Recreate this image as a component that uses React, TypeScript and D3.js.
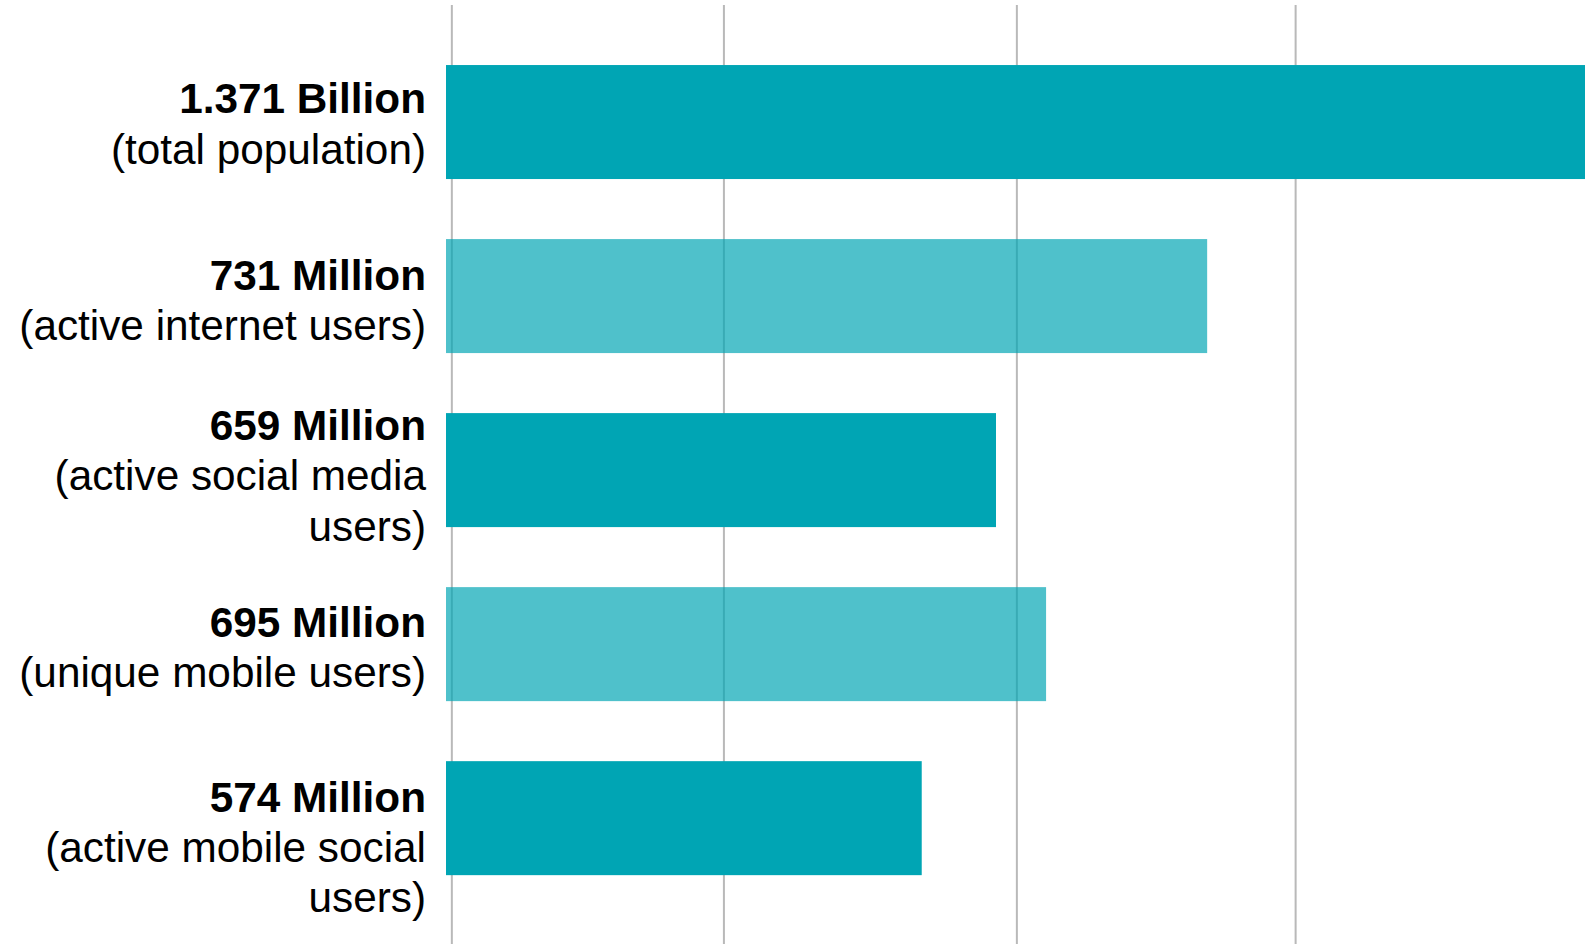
import React from "react";
import * as d3 from "d3";

// ---- data ----
const categories = [
  "total population",
  "active internet users",
  "active social media users",
  "unique mobile users",
  "active mobile social users",
];
const valueLabels = ["1.371 Billion", "731 Million", "659 Million", "695 Million", "574 Million"];
const descLines = [
  ["(total population)"],
  ["(active internet users)"],
  ["(active social media", "users)"],
  ["(unique mobile users)"],
  ["(active mobile social", "users)"],
];
// bar lengths as drawn, in millions on the chart's own scale
const barLengths = [1371, 912, 659, 719, 570];
// gridline positions on the same scale
const gridValues = [7, 333, 684, 1018];
const shades = ["dark", "light", "dark", "light", "dark"];

// ---- layout ----
const W = 1585;
const H = 944;
const BAR_X0 = 446;
const PX_PER_UNIT = 0.8346;
const LABEL_X = 426;
const LINE_H = 50.3;
const STEP = 174.03;
const BAR_H = 114;
const FIRST_TOP = 65.04;
const FIRST_BASELINE = [48.3, 50.9, 26.9, 49.6, 50.6];
const TEAL = "#00A5B4";

export default function App() {
  const x = d3
    .scaleLinear()
    .domain([0, 1371])
    .range([BAR_X0, BAR_X0 + 1371 * PX_PER_UNIT]);
  const pad = (STEP - BAR_H) / STEP;
  const y = d3
    .scaleBand<string>()
    .domain(categories)
    .range([FIRST_TOP - (pad / 2) * STEP, FIRST_TOP - (pad / 2) * STEP + 5 * STEP])
    .paddingInner(pad)
    .paddingOuter(pad / 2);

  return (
    <svg
      width={W}
      height={H}
      style={{
        position: "absolute",
        left: 0,
        top: 0,
        display: "block",
        background: "#fff",
        fontFamily: "Liberation Sans, Arial, sans-serif",
      }}
    >
      <rect x={0} y={0} width={W} height={H} fill="#fff" />
      {gridValues.map((g, i) => (
        <line key={i} x1={x(g)} x2={x(g)} y1={5} y2={H} stroke="#b9b9b9" strokeWidth={2} />
      ))}
      {categories.map((c, i) => (
        <rect
          key={c}
          x={x(0)}
          y={y(c)}
          width={x(barLengths[i]) - x(0)}
          height={y.bandwidth()}
          fill={TEAL}
          fillOpacity={shades[i] === "light" ? 0.69 : 1}
        />
      ))}
      {categories.map((c, i) => {
        const top = (y(c) as number) + FIRST_BASELINE[i];
        return (
          <text key={c} textAnchor="end" fontSize={42.3} fill="#000">
            <tspan x={LABEL_X} y={top} fontWeight="bold">
              {valueLabels[i]}
            </tspan>
            {descLines[i].map((l, j) => (
              <tspan key={j} x={LABEL_X} y={top + LINE_H * (j + 1)}>
                {l}
              </tspan>
            ))}
          </text>
        );
      })}
    </svg>
  );
}
